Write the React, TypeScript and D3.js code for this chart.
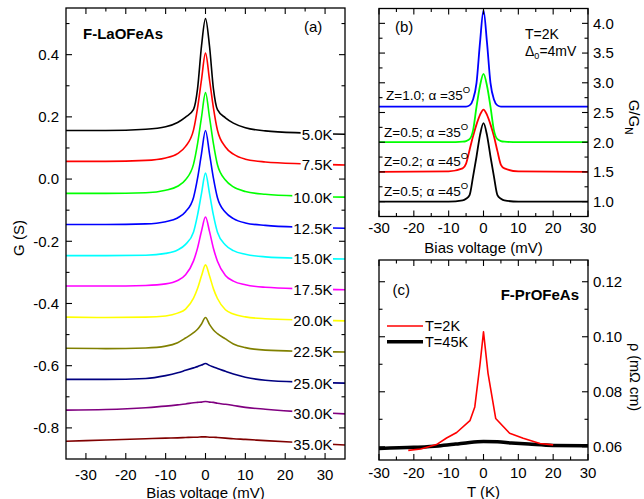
import React from "react";
import * as d3 from "d3";

const FONT = "'Liberation Sans', Arial, Helvetica, sans-serif";

// ---------------- Panel (a) data ----------------
const biasA = [-35, -25, -15, -10, -7, -5, -3, -2, -1, 0, 1, 2, 3, 5, 7, 10, 15, 25, 35];
const tempLabels = ["5.0K", "7.5K", "10.0K", "12.5K", "15.0K", "17.5K", "20.0K", "22.5K", "25.0K", "30.0K", "35.0K"];
const tempColors = ["#000000", "#ff0000", "#00ff00", "#0000ff", "#00ffff", "#ff00ff", "#ffff00", "#808000", "#000080", "#800080", "#800000"];
const g5_0 = [0.156, 0.156, 0.160, 0.168, 0.182, 0.199, 0.224, 0.290, 0.428, 0.516, 0.428, 0.289, 0.223, 0.197, 0.180, 0.165, 0.155, 0.148, 0.144];
const g7_5 = [0.057, 0.057, 0.060, 0.068, 0.082, 0.105, 0.158, 0.228, 0.320, 0.405, 0.320, 0.228, 0.157, 0.103, 0.080, 0.064, 0.055, 0.049, 0.045];
const g10_0 = [-0.046, -0.046, -0.044, -0.036, -0.023, -0.002, 0.048, 0.113, 0.199, 0.278, 0.199, 0.113, 0.046, -0.003, -0.025, -0.040, -0.049, -0.055, -0.058];
const g12_5 = [-0.146, -0.146, -0.144, -0.137, -0.125, -0.105, -0.059, 0.002, 0.082, 0.156, 0.082, 0.002, -0.060, -0.107, -0.127, -0.141, -0.149, -0.155, -0.158];
const g15_0 = [-0.246, -0.246, -0.245, -0.239, -0.228, -0.210, -0.170, -0.116, -0.046, 0.019, -0.046, -0.117, -0.171, -0.212, -0.230, -0.242, -0.250, -0.255, -0.257];
const g17_5 = [-0.344, -0.344, -0.342, -0.337, -0.326, -0.308, -0.263, -0.222, -0.167, -0.122, -0.168, -0.223, -0.264, -0.310, -0.328, -0.340, -0.348, -0.353, -0.356];
const g20_0 = [-0.444, -0.445, -0.444, -0.440, -0.431, -0.418, -0.383, -0.352, -0.311, -0.276, -0.311, -0.353, -0.384, -0.420, -0.434, -0.443, -0.449, -0.453, -0.456];
const g22_5 = [-0.544, -0.545, -0.543, -0.537, -0.526, -0.511, -0.494, -0.483, -0.466, -0.445, -0.467, -0.485, -0.497, -0.514, -0.530, -0.542, -0.550, -0.554, -0.556];
const g25_0 = [-0.644, -0.644, -0.641, -0.632, -0.623, -0.615, -0.607, -0.603, -0.598, -0.593, -0.599, -0.604, -0.609, -0.618, -0.627, -0.637, -0.647, -0.653, -0.656];
const g30_0 = [-0.743, -0.741, -0.735, -0.730, -0.726, -0.723, -0.719, -0.718, -0.717, -0.715, -0.717, -0.718, -0.721, -0.724, -0.728, -0.734, -0.740, -0.749, -0.755];
const g35_0 = [-0.843, -0.839, -0.835, -0.833, -0.832, -0.831, -0.830, -0.830, -0.829, -0.829, -0.830, -0.830, -0.831, -0.833, -0.835, -0.837, -0.841, -0.848, -0.855];
const seriesA = [g5_0, g7_5, g10_0, g12_5, g15_0, g17_5, g20_0, g22_5, g25_0, g30_0, g35_0];
const aXTicks = [-30, -20, -10, 0, 10, 20, 30];
const aXLabels = ["-30", "-20", "-10", "0", "10", "20", "30"];
const aYTicks = [0.4, 0.2, 0.0, -0.2, -0.4, -0.6, -0.8];
const aYLabels = ["0.4", "0.2", "0.0", "-0.2", "-0.4", "-0.6", "-0.8"];

// ---------------- Panel (b) data ----------------
const biasB = [-30, -10, -6, -5, -4, -3, -2, -1, 0, 1, 2, 3, 4, 5, 6, 10, 30];
const bBlack = [1.0, 1.0, 1.02, 1.05, 1.11, 1.42, 1.76, 2.12, 2.32, 2.12, 1.76, 1.42, 1.11, 1.05, 1.02, 1.0, 1.0];
const bRed = [1.5, 1.51, 1.56, 1.64, 1.87, 2.1, 2.3, 2.46, 2.55, 2.46, 2.3, 2.1, 1.85, 1.62, 1.56, 1.51, 1.5];
const bGreen = [2.0, 2.0, 2.01, 2.02, 2.05, 2.2, 2.6, 2.95, 3.15, 2.95, 2.6, 2.2, 2.05, 2.02, 2.01, 2.0, 2.0];
const bBlue = [2.6, 2.6, 2.6, 2.6, 2.62, 2.72, 3.0, 3.68, 4.22, 3.68, 3.0, 2.72, 2.62, 2.6, 2.6, 2.6, 2.6];
const seriesB = [bBlack, bRed, bGreen, bBlue];
const colorsB = ["#000000", "#ff0000", "#00ff00", "#0000ff"];
const labelsBZ = ["Z=0.5; \u03b1 =45", "Z=0.2; \u03b1 =45", "Z=0.5; \u03b1 =35", "Z=1.0; \u03b1 =35"];
const bXTicks = [-30, -20, -10, 0, 10, 20, 30];
const bXLabels = ["-30", "-20", "-10", "0", "10", "20", "30"];
const bYTicks = [1.0, 1.5, 2.0, 2.5, 3.0, 3.5, 4.0];
const bYLabels = ["1.0", "1.5", "2.0", "2.5", "3.0", "3.5", "4.0"];

// ---------------- Panel (c) data ----------------
const tRed = [-21.6, -18, -13.5, -10.6, -7.7, -3.9, -2.5, -1, 0, 1.3, 3.5, 7.5, 11.4, 16.2, 20];
const rhoRed = [0.0587, 0.0592, 0.0608, 0.0632, 0.0652, 0.0695, 0.0745, 0.090, 0.1018, 0.0867, 0.0703, 0.0649, 0.0631, 0.0612, 0.0607];
const tBlack = [-30, -20, -13, -8, -4, 0, 4, 8, 13, 20, 30];
const rhoBlack = [0.0594, 0.0598, 0.0603, 0.061, 0.0616, 0.0619, 0.0618, 0.0614, 0.061, 0.0605, 0.0604];
const cYTicks = [0.06, 0.08, 0.10, 0.12];
const cYLabels = ["0.06", "0.08", "0.10", "0.12"];

const charW: Record<string, number> = { "0": 0.556, "1": 0.556, "2": 0.556, "3": 0.556, "5": 0.556, "7": 0.556, ".": 0.278, K: 0.667 };
const textWidth = (s: string, fs: number) => s.split("").reduce((a, c) => a + (charW[c] ?? 0.556), 0) * fs;

type Box = { l: number; r: number; t: number; b: number };

function Ticks({ box, xs, ys, xMaj, xMin, yMaj, yMin }: any) {
  const M = 6, m = 3.5;
  const out: any[] = [];
  xMaj.forEach((v: number, i: number) => {
    const x = xs(v);
    out.push(<line key={"xb" + i} x1={x} x2={x} y1={box.b} y2={box.b - M} />);
    out.push(<line key={"xt" + i} x1={x} x2={x} y1={box.t} y2={box.t + M} />);
  });
  xMin.forEach((v: number, i: number) => {
    const x = xs(v);
    out.push(<line key={"xmb" + i} x1={x} x2={x} y1={box.b} y2={box.b - m} />);
    out.push(<line key={"xmt" + i} x1={x} x2={x} y1={box.t} y2={box.t + m} />);
  });
  yMaj.forEach((v: number, i: number) => {
    const y = ys(v);
    out.push(<line key={"yl" + i} x1={box.l} x2={box.l + M} y1={y} y2={y} />);
    out.push(<line key={"yr" + i} x1={box.r} x2={box.r - M} y1={y} y2={y} />);
  });
  yMin.forEach((v: number, i: number) => {
    const y = ys(v);
    out.push(<line key={"yml" + i} x1={box.l} x2={box.l + m} y1={y} y2={y} />);
    out.push(<line key={"ymr" + i} x1={box.r} x2={box.r - m} y1={y} y2={y} />);
  });
  return (
    <g stroke="#000" strokeWidth={1.1}>
      {out}
      <rect x={box.l} y={box.t} width={box.r - box.l} height={box.b - box.t} fill="none" strokeWidth={1.3} />
    </g>
  );
}

export default function App() {
  // Panel (a)
  const A: Box = { l: 66, r: 345, t: 8, b: 459 };
  const xa = d3.scaleLinear().domain([-35, 35]).range([A.l, A.r]);
  const ya = d3.scaleLinear().domain([-0.9, 0.55]).range([A.b, A.t]);
  const lineA = d3.line<number>().x((_, i) => xa(biasA[i])).y((d) => ya(d)).curve(d3.curveMonotoneX);

  // Panel (b)
  const B: Box = { l: 379, r: 588, t: 8.5, b: 216.5 };
  const xb = d3.scaleLinear().domain([-30, 30]).range([B.l, B.r]);
  const yb = d3.scaleLinear().domain([0.75, 4.25]).range([B.b, B.t]);
  const lineB = d3.line<number>().x((_, i) => xb(biasB[i])).y((d) => yb(d)).curve(d3.curveMonotoneX);

  // Panel (c)
  const C: Box = { l: 379, r: 588, t: 260, b: 460 };
  const xc = d3.scaleLinear().domain([-30, 30]).range([C.l, C.r]);
  const yc = d3.scaleLinear().domain([0.0552, 0.1279]).range([C.b, C.t]);
  const lineRed = d3.line<number>().x((_, i) => xc(tRed[i])).y((d) => yc(d));
  const lineBlack = d3.line<number>().x((_, i) => xc(tBlack[i])).y((d) => yc(d)).curve(d3.curveMonotoneX);

  const fsT = 15;
  const labelRight = 332.5;

  return (
    <svg width={644} height={499} style={{ position: "absolute", left: 0, top: 0, background: "#fff" }} fontFamily={FONT}>
      <rect x={0} y={0} width={644} height={499} fill="#fff" />
      {/* ===== Panel (a) ===== */}
      <g fill="none" strokeWidth={1.6} strokeLinejoin="round">
        {seriesA.map((s, i) => (
          <path key={i} d={lineA(s) || ""} stroke={tempColors[i]} />
        ))}
      </g>
      {seriesA.map((s, i) => {
        const y = ya(s[s.length - 1]);
        const w = textWidth(tempLabels[i], fsT);
        return (
          <g key={"lab" + i}>
            <rect x={labelRight - w - 1} y={y - 7} width={w + 1.5} height={14} fill="#fff" />
            <text x={labelRight} y={y + 5.4} fontSize={fsT} textAnchor="end" fill="#000">
              {tempLabels[i]}
            </text>
          </g>
        );
      })}
      <Ticks box={A} xs={xa} ys={ya} xMaj={aXTicks} xMin={[-25, -15, -5, 5, 15, 25]} yMaj={aYTicks} yMin={[0.5, 0.3, 0.1, -0.1, -0.3, -0.5, -0.7]} />
      {aXTicks.map((v, i) => (
        <text key={"ax" + i} x={xa(v)} y={480} fontSize={15} textAnchor="middle">{aXLabels[i]}</text>
      ))}
      {aYTicks.map((v, i) => (
        <text key={"ay" + i} x={59} y={ya(v) + 5.4} fontSize={15} textAnchor="end">{aYLabels[i]}</text>
      ))}
      <text x={xa(0)} y={497.5} fontSize={15} textAnchor="middle">Bias voltage (mV)</text>
      <text transform="translate(24,238) rotate(-90)" fontSize={15} textAnchor="middle">G (S)</text>
      <text x={83} y={39} fontSize={15} fontWeight="bold">F-LaOFeAs</text>
      <text x={304} y={32} fontSize={15}>(a)</text>

      {/* ===== Panel (b) ===== */}
      <g fill="none" strokeWidth={1.8} strokeLinejoin="round">
        {seriesB.map((s, i) => (
          <path key={i} d={lineB(s) || ""} stroke={colorsB[i]} />
        ))}
      </g>
      <Ticks box={B} xs={xb} ys={yb} xMaj={bXTicks} xMin={[-25, -15, -5, 5, 15, 25]} yMaj={bYTicks} yMin={[1.25, 1.75, 2.25, 2.75, 3.25, 3.75]} />
      {bXTicks.map((v, i) => (
        <text key={"bx" + i} x={xb(v)} y={233} fontSize={15} textAnchor="middle">{bXLabels[i]}</text>
      ))}
      {bYTicks.map((v, i) => (
        <text key={"by" + i} x={593} y={yb(v) + 5.4} fontSize={15}>{bYLabels[i]}</text>
      ))}
      <text x={xb(0)} y={253} fontSize={15} textAnchor="middle">Bias voltage (mV)</text>
      <text transform="translate(629,117) rotate(90)" fontSize={15} textAnchor="middle">
        G/G<tspan fontSize={10} dy={4}>N</tspan>
      </text>
      <text x={395} y={32} fontSize={15}>(b)</text>
      <text x={525} y={39} fontSize={14}>T=2K</text>
      <text x={525} y={56} fontSize={14}>
        {"\u0394"}<tspan fontSize={9} dy={3}>0</tspan><tspan dy={-3}>=4mV</tspan>
      </text>
      {labelsBZ.map((t, i) => {
        const ys = [196, 166, 137, 100];
        const xs = [384, 384, 384, 386];
        return (
          <text key={"bz" + i} x={xs[i]} y={ys[i]} fontSize={13.5}>
            {t}<tspan fontSize={9.5} dy={-7}>O</tspan>
          </text>
        );
      })}

      {/* ===== Panel (c) ===== */}
      <path d={lineBlack(rhoBlack) || ""} fill="none" stroke="#000" strokeWidth={3.5} strokeLinejoin="round" />
      <path d={lineRed(rhoRed) || ""} fill="none" stroke="#ff0000" strokeWidth={1.6} strokeLinejoin="round" />
      <Ticks box={C} xs={xc} ys={yc} xMaj={bXTicks} xMin={[-25, -15, -5, 5, 15, 25]} yMaj={cYTicks} yMin={[0.07, 0.09, 0.11]} />
      {bXTicks.map((v, i) => (
        <text key={"cx" + i} x={xc(v)} y={478} fontSize={15} textAnchor="middle">{bXLabels[i]}</text>
      ))}
      {cYTicks.map((v, i) => (
        <text key={"cy" + i} x={593} y={yc(v) + 5.4} fontSize={15}>{cYLabels[i]}</text>
      ))}
      <text x={xc(0)} y={497} fontSize={15} textAnchor="middle">T (K)</text>
      <text transform="translate(630,377) rotate(90)" fontSize={14.5} textAnchor="middle">{"\u03c1 (m\u03a9 cm)"}</text>
      <text x={392.5} y={295} fontSize={15}>(c)</text>
      <text x={579} y={300} fontSize={15} fontWeight="bold" textAnchor="end">F-PrOFeAs</text>
      <line x1={387} x2={423} y1={326} y2={326} stroke="#ff0000" strokeWidth={1.6} />
      <text x={425} y={331} fontSize={14.5}>T=2K</text>
      <line x1={387} x2={423} y1={341.7} y2={341.7} stroke="#000" strokeWidth={3.5} />
      <text x={425} y={347} fontSize={14.5}>T=45K</text>
    </svg>
  );
}
